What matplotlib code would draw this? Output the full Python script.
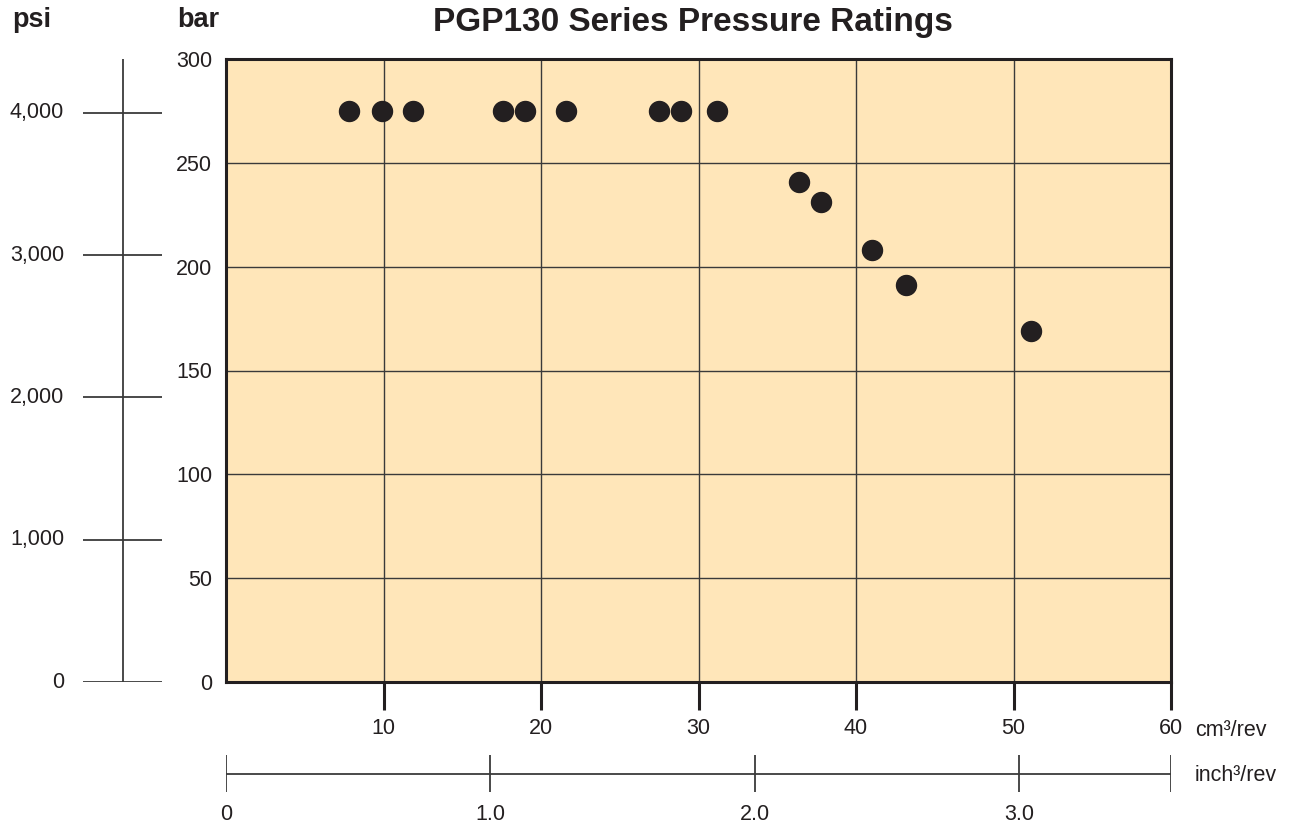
import numpy as np
import matplotlib.pyplot as plt

plt.rcParams['font.family'] = ['Liberation Sans', 'DejaVu Sans']

# данные
displacement_cm3 = [7.8, 9.9, 11.9, 17.6, 19.0, 21.6, 27.5, 28.9, 31.2,
                    36.4, 37.8, 41.0, 43.2, 51.1]
pressure_bar = [275, 275, 275, 275, 275, 275, 275, 275, 275,
                241, 231, 208, 191, 169]
cm_ticks = [10, 20, 30, 40, 50, 60]
bar_ticks = [0, 50, 100, 150, 200, 250, 300]
psi_ticks = [0, 1000, 2000, 3000, 4000]
psi_labels = ['0', '1,000', '2,000', '3,000', '4,000']
inch_ticks = [0, 1.0, 2.0, 3.0]
inch_labels = ['0', '1.0', '2.0', '3.0']

W, H = 1292, 826
fig = plt.figure(figsize=(W / 100, H / 100), dpi=100)

def rect(x0, y0, x1, y1):
    # пиксели -> доли фигуры
    return [x0 / W, 1 - y1 / H, (x1 - x0) / W, (y1 - y0) / H]

line_col = '#3a3a3a'
dark = '#231f20'
fs = 15.5

# основная область
ax = fig.add_axes(rect(226, 59, 1171, 682))
ax.set_facecolor('#ffe6b9')
ax.set_xlim(0, 60)
ax.set_ylim(0, 300)
ax.set_xticks(cm_ticks)
ax.set_yticks(bar_ticks)
ax.grid(True, color=line_col, lw=1.0)
ax.set_axisbelow(True)
for s in ax.spines.values():
    s.set_linewidth(2.2)
    s.set_color(dark)
ax.tick_params(axis='x', direction='out', length=20, width=2.2, color=dark,
               labelsize=fs, pad=6, labelcolor=dark)
ax.tick_params(axis='y', length=0, labelsize=fs, pad=10, labelcolor=dark)
ax.plot(displacement_cm3, pressure_bar, 'o', ms=14.4, color=dark,
        zorder=5, clip_on=False)
ax.text(1.025, -0.078, 'cm³/rev', transform=ax.transAxes, fontsize=fs,
        color=dark, va='center', ha='left')

fig.text(693 / W, 1 - 23 / H, 'PGP130 Series Pressure Ratings',
         fontsize=24, fontweight='bold', ha='center', va='center', color=dark)
fig.text(32 / W, 1 - 20 / H, 'psi', fontsize=19.5, fontweight='bold',
         ha='center', va='center', color=dark)
fig.text(198 / W, 1 - 20 / H, 'bar', fontsize=19.5, fontweight='bold',
         ha='center', va='center', color=dark)

# шкала psi (0 и 4000 psi по пикселям эталона)
axp = fig.add_axes(rect(83, 59, 162, 682))
axp.set_xlim(0, 1)
axp.set_ylim(0, 4000 * 623 / 569)
axp.axis('off')
axp.axvline(0.5, color=line_col, lw=1.3)
for v, lab in zip(psi_ticks, psi_labels):
    axp.axhline(v, color=line_col, lw=1.3)
    axp.text(-0.24, v, lab, fontsize=fs, ha='right', va='center', color=dark)

# шкала inch³/rev
axi = fig.add_axes(rect(226, 755, 1171, 792))
xmax = 945 / 264.3
axi.set_xlim(0, xmax)
axi.set_ylim(0, 1)
axi.axis('off')
axi.axhline(0.5, color=line_col, lw=1.3)
for v in inch_ticks + [xmax]:
    axi.axvline(v, color=line_col, lw=1.3)
for v, lab in zip(inch_ticks, inch_labels):
    axi.text(v, -0.6, lab, fontsize=fs, ha='center', va='center', color=dark)
axi.text(1.025, 0.45, 'inch³/rev', transform=axi.transAxes, fontsize=fs,
         color=dark, va='center', ha='left')

fig.savefig('out.png', dpi=100)
